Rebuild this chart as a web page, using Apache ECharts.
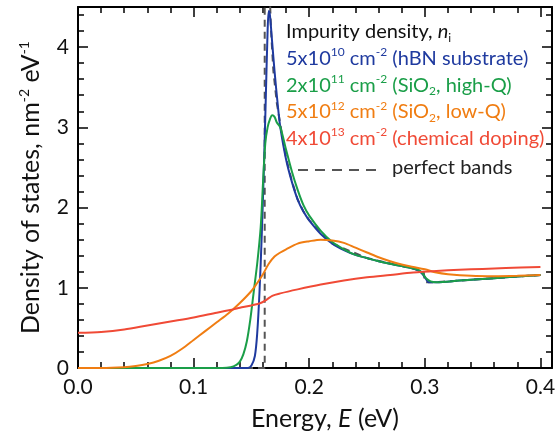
<!DOCTYPE html>
<html>
<head>
<meta charset="utf-8">
<script src="https://cdn.jsdelivr.net/npm/echarts@6/dist/echarts.min.js"></script>
<style>
html, body { margin: 0; padding: 0; background: #fff; }
#chart { width: 557px; height: 439px; }
</style>
</head>
<body>
<div id="chart"></div>
<script>
// 能量 (eV) 与态密度
var energyBlue = [0, 0.14, 0.147, 0.150, 0.153, 0.155, 0.157, 0.159, 0.161, 0.1625, 0.164, 0.165, 0.166, 0.168, 0.170, 0.173, 0.175, 0.180, 0.185, 0.190, 0.195, 0.200, 0.21, 0.22, 0.23, 0.24, 0.25, 0.26, 0.27, 0.28, 0.29, 0.295, 0.298, 0.301, 0.303, 0.305, 0.31, 0.33, 0.35, 0.37, 0.39, 0.40];
var dosBlue = [0, 0, 0, 0.03, 0.15, 0.43, 0.95, 1.68, 2.6, 3.4, 4.2, 4.45, 4.4, 4.05, 3.7, 3.25, 3.0, 2.6, 2.32, 2.1, 1.95, 1.84, 1.67, 1.55, 1.47, 1.41, 1.37, 1.33, 1.30, 1.27, 1.24, 1.21, 1.17, 1.11, 1.07, 1.07, 1.07, 1.09, 1.11, 1.13, 1.15, 1.16];

var energyGreen = [0, 0.125, 0.132, 0.137, 0.140, 0.143, 0.146, 0.149, 0.152, 0.155, 0.158, 0.160, 0.162, 0.164, 0.166, 0.168, 0.170, 0.172, 0.175, 0.180, 0.185, 0.190, 0.195, 0.200, 0.21, 0.22, 0.23, 0.24, 0.25, 0.26, 0.27, 0.28, 0.29, 0.295, 0.298, 0.301, 0.305, 0.31, 0.33, 0.35, 0.37, 0.39, 0.40];
var dosGreen = [0, 0, 0.01, 0.04, 0.08, 0.17, 0.33, 0.6, 0.95, 1.3, 1.75, 2.3, 2.8, 3.0, 3.1, 3.15, 3.13, 3.06, 3.0, 2.72, 2.45, 2.22, 2.03, 1.9, 1.71, 1.57, 1.48, 1.41, 1.37, 1.33, 1.30, 1.27, 1.24, 1.22, 1.18, 1.12, 1.08, 1.07, 1.09, 1.11, 1.13, 1.15, 1.16];

var energyOrange = [0, 0.02, 0.04, 0.05, 0.06, 0.07, 0.08, 0.09, 0.10, 0.11, 0.12, 0.13, 0.14, 0.15, 0.155, 0.16, 0.165, 0.17, 0.175, 0.18, 0.19, 0.20, 0.21, 0.22, 0.23, 0.24, 0.25, 0.26, 0.27, 0.28, 0.29, 0.30, 0.31, 0.32, 0.34, 0.36, 0.38, 0.40];
var dosOrange = [0, 0, 0.01, 0.025, 0.05, 0.09, 0.15, 0.24, 0.35, 0.46, 0.57, 0.68, 0.81, 0.96, 1.06, 1.17, 1.3, 1.39, 1.44, 1.48, 1.55, 1.58, 1.6, 1.59, 1.56, 1.5, 1.44, 1.38, 1.33, 1.29, 1.26, 1.23, 1.19, 1.17, 1.15, 1.145, 1.15, 1.16];

var energyRed = [0, 0.02, 0.04, 0.06, 0.08, 0.10, 0.12, 0.134, 0.14, 0.15, 0.158, 0.163, 0.168, 0.175, 0.19, 0.21, 0.23, 0.25, 0.27, 0.29, 0.31, 0.33, 0.35, 0.37, 0.40];
var dosRed = [0.44, 0.45, 0.48, 0.53, 0.58, 0.63, 0.69, 0.73, 0.75, 0.78, 0.81, 0.85, 0.9, 0.93, 0.98, 1.04, 1.09, 1.13, 1.16, 1.19, 1.21, 1.225, 1.235, 1.245, 1.26];

// 理想能带 (虚线)
var energyPerfect = [0, 0.1615, 0.1615, 0.1655, 0.167, 0.169, 0.172, 0.176, 0.18, 0.185, 0.19, 0.195, 0.20, 0.22, 0.25, 0.28, 0.29, 0.299, 0.300, 0.31, 0.35, 0.40];
var dosPerfect = [0, 0, 4.8, 4.8, 4.2, 3.7, 3.3, 2.95, 2.62, 2.33, 2.1, 1.95, 1.84, 1.55, 1.37, 1.27, 1.24, 1.2, 1.07, 1.07, 1.11, 1.16];

var xTicks = { min: 0, max: 0.41, major: 0.1, minor: 0.02 };
var yTicks = { min: 0, max: 4.5, major: 1, minor: 0.2 };

var FONT = 'Lato';
var C_BLUE = '#1f3a9f', C_GREEN = '#1a9e48', C_ORANGE = '#f07d12', C_RED = '#f04a36';

function zip(xs, ys) {
    var out = [];
    for (var i = 0; i < xs.length; i++) out.push([xs[i], ys[i]]);
    return out;
}

function xAxisOf(pos, step, len, main) {
    return {
        type: 'value', position: pos, min: xTicks.min, max: xTicks.max, interval: step,
        axisLine: { show: main, onZero: false, lineStyle: { color: '#000', width: 2 } },
        axisTick: { inside: true, length: len, lineStyle: { color: '#000', width: 1.5 } },
        axisLabel: { show: main && pos === 'bottom', showMaxLabel: false, margin: 9, color: '#111', fontSize: 21, fontFamily: FONT,
            formatter: function (v) { return v.toFixed(1); } },
        splitLine: { show: false }
    };
}
function yAxisOf(pos, step, len, main) {
    return {
        type: 'value', position: pos, min: yTicks.min, max: yTicks.max, interval: step,
        axisLine: { show: main, onZero: false, lineStyle: { color: '#000', width: 2 } },
        axisTick: { inside: true, length: len, lineStyle: { color: '#000', width: 1.5 } },
        axisLabel: { show: main && pos === 'left', showMaxLabel: false, margin: 9, color: '#111', fontSize: 21, fontFamily: FONT },
        splitLine: { show: false }
    };
}

var xAxes = [xAxisOf('bottom', xTicks.major, 10, true), xAxisOf('bottom', xTicks.minor, 6, false),
             xAxisOf('top', xTicks.major, 10, true), xAxisOf('top', xTicks.minor, 6, false)];
var yAxes = [yAxisOf('left', yTicks.major, 10, true), yAxisOf('left', yTicks.minor, 6, false),
             yAxisOf('right', yTicks.major, 10, true), yAxisOf('right', yTicks.minor, 6, false)];

// 坐标轴标题
xAxes[0].name = '{a|Energy, }{i|E}{a| (eV)}';
xAxes[0].nameLocation = 'middle';
xAxes[0].nameGap = 38;
xAxes[0].nameTextStyle = {
    padding: [0, 0, 0, 20],
    rich: {
        a: { fontSize: 25, fontFamily: FONT, color: '#111' },
        i: { fontSize: 25, fontFamily: FONT, fontStyle: 'italic', color: '#111' }
    }
};
yAxes[0].name = '{a|Density of states, nm}{s|-2}{a| eV}{s|-1}';
yAxes[0].nameLocation = 'middle';
yAxes[0].nameRotate = 90;
yAxes[0].nameGap = 33;
yAxes[0].nameTextStyle = {
    rich: {
        a: { fontSize: 25, fontFamily: FONT, color: '#111', lineHeight: 28 },
        s: { fontSize: 14, fontFamily: FONT, color: '#111', verticalAlign: 'top', lineHeight: 14 }
    }
};

// 图例 (彩色文字 + 上下标)
var legendRich = {
    a: { fontSize: 20, fontFamily: FONT, lineHeight: 24 },
    it: { fontSize: 20, fontFamily: FONT, fontStyle: 'italic', lineHeight: 24 },
    sup: { fontSize: 12, fontFamily: FONT, verticalAlign: 'top', lineHeight: 12 },
    sub: { fontSize: 12, fontFamily: FONT, verticalAlign: 'bottom', lineHeight: 12 }
};
var legendLines = [
    { text: '{a|Impurity density, }{it|n}{sub|i}', color: '#111' },
    { text: '{a|5x10}{sup|10}{a| cm}{sup|-2}{a| (hBN substrate)}', color: C_BLUE },
    { text: '{a|2x10}{sup|11}{a| cm}{sup|-2}{a| (SiO}{sub|2}{a|, high-Q)}', color: C_GREEN },
    { text: '{a|5x10}{sup|12}{a| cm}{sup|-2}{a| (SiO}{sub|2}{a|, low-Q)}', color: C_ORANGE },
    { text: '{a|4x10}{sup|13}{a| cm}{sup|-2}{a| (chemical doping)}', color: C_RED }
];
var graphics = legendLines.map(function (l, i) {
    return {
        type: 'text', x: 286, y: 32 + i * 26.6, z: 100,
        style: { text: l.text, fill: l.color, rich: legendRich, verticalAlign: 'middle', textVerticalAlign: 'middle' }
    };
});
graphics.push({
    type: 'line', z: 100,
    shape: { x1: 298, y1: 170, x2: 378, y2: 170 },
    style: { stroke: '#555', lineWidth: 2, lineDash: [10, 7] }
});
graphics.push({
    type: 'text', x: 392, y: 168, z: 100,
    style: { text: 'perfect bands', fill: '#222', font: '20px ' + FONT, verticalAlign: 'middle', textVerticalAlign: 'middle' }
});

function lineSeries(name, xs, ys, color, dashed) {
    return {
        name: name, type: 'line', xAxisIndex: 0, yAxisIndex: 0,
        data: zip(xs, ys), showSymbol: false, smooth: dashed ? false : 0.3,
        lineStyle: { color: color, width: 2, type: dashed ? [7, 5] : 'solid' },
        clip: true
    };
}

var chart = echarts.init(document.getElementById('chart'));
chart.setOption({
    animation: false,
    backgroundColor: '#fff',
    grid: { left: 78, right: 5, top: 7, bottom: 71, containLabel: false, outerBoundsMode: 'none' },
    xAxis: xAxes,
    yAxis: yAxes,
    graphic: graphics,
    series: [
        lineSeries('perfect bands', energyPerfect, dosPerfect, '#555', true),
        lineSeries('hBN', energyBlue, dosBlue, C_BLUE),
        lineSeries('SiO2 high-Q', energyGreen, dosGreen, C_GREEN),
        lineSeries('SiO2 low-Q', energyOrange, dosOrange, C_ORANGE),
        lineSeries('chemical doping', energyRed, dosRed, C_RED)
    ]
});
</script>
</body>
</html>
